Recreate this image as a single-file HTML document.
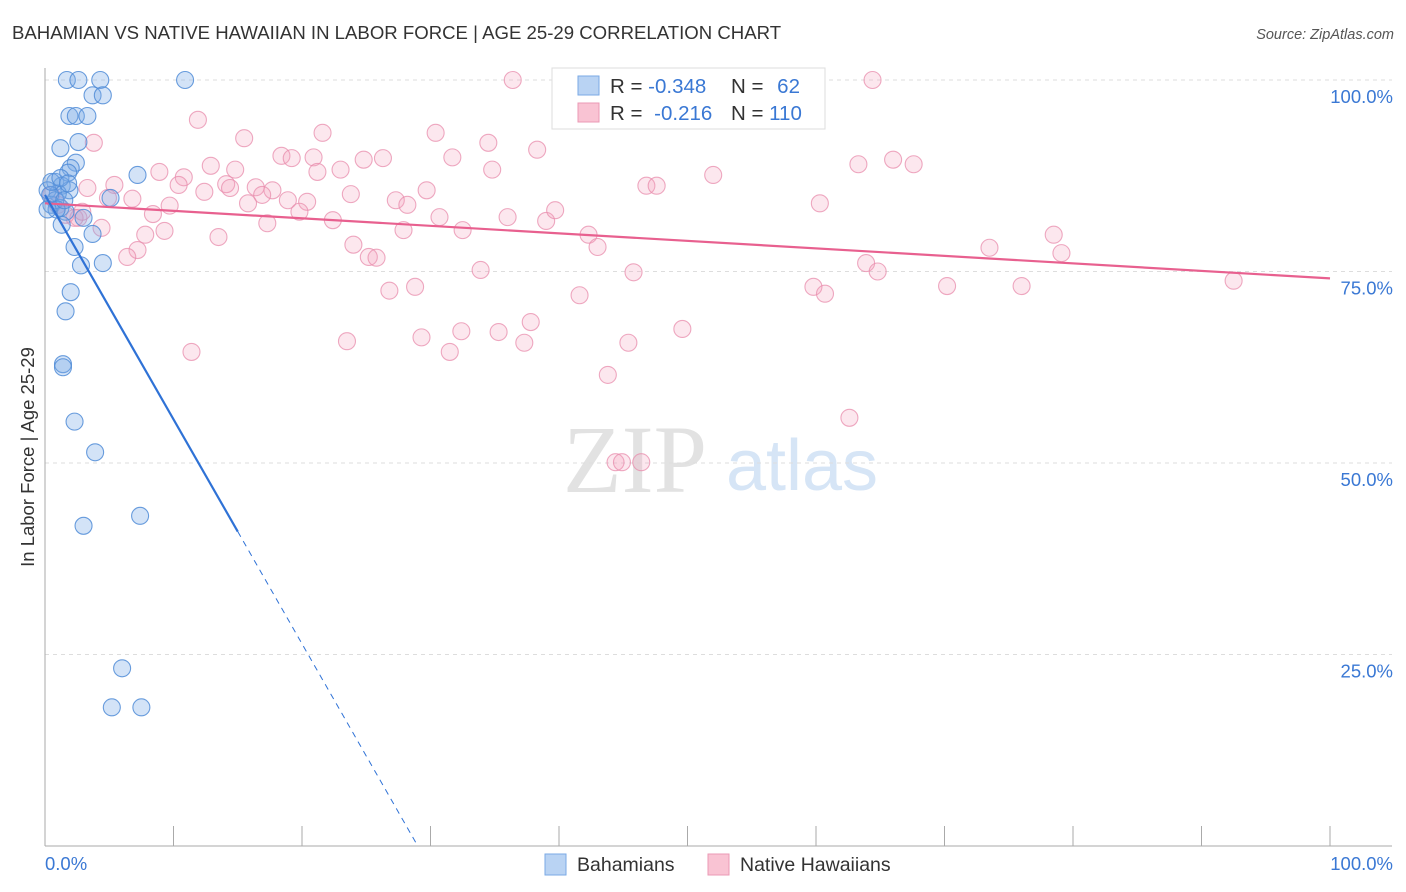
<!DOCTYPE html>
<html><head><meta charset="utf-8"><style>
body{margin:0;background:#fff;font-family:"Liberation Sans",sans-serif}
svg{display:block}
</style></head><body>
<svg id="c" width="1406" height="892">
<text x="12" y="39" font-size="18.6" fill="#333">BAHAMIAN VS NATIVE HAWAIIAN IN LABOR FORCE | AGE 25-29 CORRELATION CHART</text>
<text x="1394" y="39" font-size="14.5" fill="#555" text-anchor="end" font-style="italic">Source: ZipAtlas.com</text>
<g>
<text x="635" y="492" font-size="96" font-family="Liberation Serif,serif" fill="#e2e2e2" text-anchor="middle">ZIP</text>
<text x="802" y="490" font-size="72" fill="#d6e5f6" text-anchor="middle">atlas</text>
</g>
<g id="grid"></g><g id="pink"></g><g id="blue"></g><g id="lines"></g>
<text transform="translate(34,457) rotate(-90)" font-size="18.5" fill="#333" text-anchor="middle">In Labor Force | Age 25-29</text>
<g>
<rect x="552" y="68" width="273" height="61" fill="#fff" stroke="#ddd"/>
<rect x="578" y="76" width="21" height="19" fill="#b9d3f3" stroke="#7aaae6"/>
<rect x="578" y="103" width="21" height="19" fill="#f9c3d3" stroke="#eb9ab5"/>
<text x="610" y="93" font-size="20.5" fill="#333">R = <tspan fill="#3a78d4">-0.348</tspan></text>
<text x="731" y="93" font-size="20.5" fill="#333">N = <tspan fill="#3a78d4" dx="8">62</tspan></text>
<text x="610" y="120" font-size="20.5" fill="#333">R = <tspan fill="#3a78d4" dx="6">-0.216</tspan></text>
<text x="731" y="120" font-size="20.5" fill="#333">N = <tspan fill="#3a78d4">110</tspan></text>
</g>
<g>
<rect x="545" y="854" width="21" height="21" fill="#b9d3f3" stroke="#7aaae6"/>
<text x="577" y="871" font-size="19.5" fill="#333">Bahamians</text>
<rect x="708" y="854" width="21" height="21" fill="#f9c3d3" stroke="#eb9ab5"/>
<text x="740" y="871" font-size="19.5" fill="#333">Native Hawaiians</text>
</g>
</svg>
<script>
const blueX=[1.7,2.6,4.3,10.9,3.7,4.5,1.9,2.4,3.3,1.2,2.6,2.4,2.0,1.8,7.2,0.8,1.3,1.9,1.0,0.2,5.1,0.5,1.2,1.6,0.8,3.0,1.3,3.7,2.3,2.8,4.5,2.0,1.6,1.4,1.4,2.3,3.9,3.0,7.4,6.0,5.2,7.5,0.4,0.9,1.5,0.2,0.5,1.2,1.8];
const blueY=[100,100,100,100,98.0,98.0,95.3,95.3,95.3,91.1,91.9,89.2,88.5,87.9,87.6,86.7,86.2,85.6,85.2,85.6,84.6,83.7,83.3,82.8,84.3,82.0,81.1,79.9,78.2,75.8,76.1,72.3,69.8,62.9,62.5,55.4,51.4,41.8,43.1,23.2,18.1,18.1,85.0,83.1,84.3,83.1,86.7,87.2,86.5];
const pinkX=[36.4,64.4,50.3,11.9,15.5,21.6,30.4,34.5,3.8,38.3,18.4,19.2,20.9,24.8,26.3,31.7,12.9,14.8,8.9,10.8,21.2,23.0,34.8,63.3,66.0,67.6,52.0,10.4,14.1,16.4,17.7,12.4,14.4,23.8,29.7,46.8,47.6,3.3,5.4,6.8,4.9,18.9,20.4,27.3,28.2,15.8,16.9,9.7,60.3,8.4,19.8,22.4,30.7,36.0,39.0,39.7,17.3,2.6,4.4,9.3,7.8,13.5,27.9,32.5,42.3,43.0,24.0,25.2,25.8,7.2,6.4,73.5,78.5,79.1,33.9,45.8,63.9,64.8,26.8,28.8,41.6,59.8,60.7,70.2,76.0,92.5,37.8,49.6,32.4,35.3,23.5,29.3,37.3,45.4,31.5,11.4,43.8,62.6,44.4,44.9,46.4,0.5,1.0,1.6,2.3,2.9,42.8,55.6];
const pinkY=[100,100,100,94.8,92.4,93.1,93.1,91.8,91.8,90.9,90.1,89.8,89.9,89.6,89.8,89.9,88.8,88.3,88.0,87.3,88.0,88.3,88.3,89.0,89.6,89.0,87.6,86.3,86.4,86.0,85.6,85.4,85.9,85.1,85.6,86.2,86.2,85.9,86.3,84.5,84.6,84.3,84.1,84.3,83.7,83.9,85.0,83.6,83.9,82.5,82.8,81.7,82.1,82.1,81.6,83.0,81.3,82.0,80.7,80.3,79.8,79.5,80.4,80.4,79.8,78.2,78.5,76.9,76.8,77.8,76.9,78.1,79.8,77.4,75.2,74.9,76.1,75.0,72.5,73.0,71.9,73.0,72.1,73.1,73.1,73.8,68.4,67.5,67.2,67.1,65.9,66.4,65.7,65.7,64.5,64.5,61.5,55.9,50.1,50.1,50.1,85.0,83.7,82.4,82.0,82.8,95.4,97.6];
const yTicks=[100,75,50,25];
const yTickLabels=["100.0%","75.0%","50.0%","25.0%"];
const blueFit=[85.0,-2.93];
const pinkFit=[83.9,-0.098];
const NS="http://www.w3.org/2000/svg";
const X0=45,X1=1330,Y0=846,Y1=80;
const sx=v=>X0+(X1-X0)*v/100, sy=v=>Y0-(Y0-Y1)*v/100;
function mk(t,a,p){const e=document.createElementNS(NS,t);for(const k in a)e.setAttribute(k,a[k]);p.appendChild(e);return e;}
const g=document.getElementById('grid');
yTicks.forEach((t,i)=>{
 const l=mk('line',{x1:X0,x2:1392,y1:sy(t),y2:sy(t),stroke:'#ddd','stroke-dasharray':'4,4'},g);
 
 
 const tx=mk('text',{x:1393,y:sy(t)+23,'font-size':18.5,fill:'#3a78d4','text-anchor':'end'},g);tx.textContent=yTickLabels[i];
 
 
});
const ax=mk('line',{x1:X0,x2:X0,y1:68,y2:Y0,stroke:'#aaa'},g);


const bx=mk('line',{x1:X0,x2:1392,y1:Y0,y2:Y0,stroke:'#aaa'},g);


for(let i=0;i<=10;i++){const t=mk('line',{x1:sx(i*10),x2:sx(i*10),y1:826,y2:Y0,stroke:'#aaa'},g);
 
 }
const xl=mk('text',{x:45,y:870,'font-size':18.5,fill:'#3a78d4'},g);xl.textContent='0.0%';


const xr=mk('text',{x:1393,y:870,'font-size':18.5,fill:'#3a78d4','text-anchor':'end'},g);xr.textContent='100.0%';


const pg=document.getElementById('pink');
pinkX.forEach((x,i)=>{const c=mk('circle',{cx:sx(x),cy:sy(pinkY[i]),r:8.5,fill:'rgba(244,160,188,0.25)',stroke:'rgba(232,140,172,0.75)','stroke-width':1.1},pg);
 
 });
const bg=document.getElementById('blue');
blueX.forEach((x,i)=>{const c=mk('circle',{cx:sx(x),cy:sy(blueY[i]),r:8.5,fill:'rgba(120,170,230,0.33)',stroke:'rgba(80,140,215,0.85)','stroke-width':1.1},bg);
 
 });
const lg=document.getElementById('lines');
const pl=mk('line',{x1:sx(0),y1:sy(pinkFit[0]),x2:sx(100),y2:sy(pinkFit[0]+pinkFit[1]*100),stroke:'#e8608f','stroke-width':2.2},lg);


const xe=15, xz=-blueFit[0]/blueFit[1];
const bl=mk('line',{x1:sx(0),y1:sy(blueFit[0]),x2:sx(xe),y2:sy(blueFit[0]+blueFit[1]*xe),stroke:'#2f72d6','stroke-width':2.2},lg);


const bd=mk('line',{x1:sx(xe),y1:sy(blueFit[0]+blueFit[1]*xe),x2:sx(xz),y2:sy(0),stroke:'#2f72d6','stroke-width':1,'stroke-dasharray':'6,5'},lg);


</script>
</body></html>
